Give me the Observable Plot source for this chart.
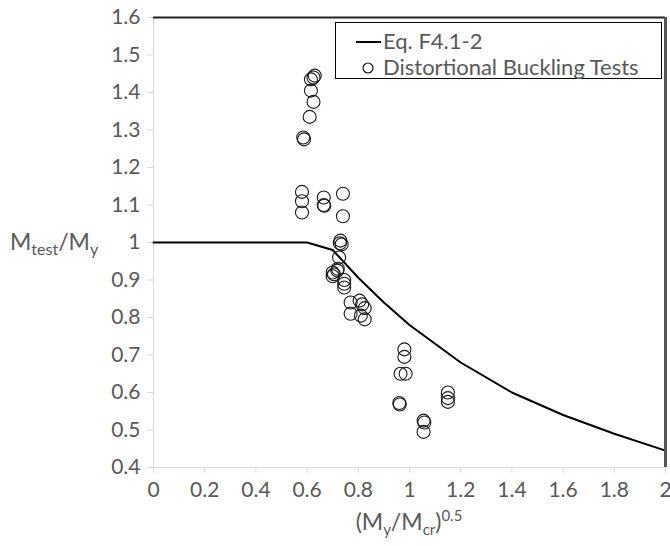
<!DOCTYPE html>
<html>
<head>
<meta charset="utf-8">
<script src="https://cdn.jsdelivr.net/npm/d3@7"></script>
<script src="https://cdn.jsdelivr.net/npm/@observablehq/plot@0.6"></script>
<style>
  html, body { margin: 0; padding: 0; background: #fff; }
  #chart { width: 670px; height: 546px; }
</style>
</head>
<body>
<div id="chart"></div>
<script>
// Eq. F4.1-2 curve
const curveX = [0, 0.6, 0.7, 0.8, 0.9, 1.0, 1.2, 1.4, 1.6, 1.8, 2.0];
const curveY = [1, 1, 0.98, 0.906, 0.84, 0.78, 0.68, 0.60, 0.54, 0.49, 0.445];

// Distortional buckling tests
const testX = [0.58, 0.58, 0.58, 0.585, 0.588, 0.61, 0.625, 0.615, 0.615, 0.625, 0.63,
  0.665, 0.665, 0.667, 0.74, 0.74, 0.73, 0.735, 0.728, 0.725, 0.72, 0.718,
  0.70, 0.70, 0.705, 0.745, 0.745, 0.745, 0.77, 0.77, 0.805, 0.815, 0.825, 0.81, 0.825,
  0.98, 0.98, 0.965, 0.985, 0.96, 0.962, 1.055, 1.058, 1.055, 1.15, 1.15, 1.15];
const testY = [1.135, 1.11, 1.08, 1.28, 1.275, 1.335, 1.375, 1.405, 1.435, 1.44, 1.445,
  1.12, 1.10, 1.098, 1.13, 1.07, 1.005, 0.995, 0.998, 0.96, 0.93, 0.925,
  0.92, 0.91, 0.915, 0.90, 0.89, 0.88, 0.84, 0.81, 0.845, 0.835, 0.825, 0.805, 0.795,
  0.715, 0.695, 0.65, 0.65, 0.572, 0.568, 0.525, 0.52, 0.495, 0.60, 0.585, 0.575];

const xTicks = [0, 0.2, 0.4, 0.6, 0.8, 1, 1.2, 1.4, 1.6, 1.8, 2];
const yTicks = [0.4, 0.5, 0.6, 0.7, 0.8, 0.9, 1, 1.1, 1.2, 1.3, 1.4, 1.5, 1.6];

const seriesLabels = ["Eq. F4.1-2", "Distortional Buckling Tests"];

const curve = curveX.map((x, i) => ({x, y: curveY[i]}));
const tests = testX.map((x, i) => ({x, y: testY[i]}));
const fmt = d => String(+d.toFixed(1));

const font = "Lato, 'Open Sans', sans-serif";

const svg = Plot.plot({
  width: 670,
  height: 546,
  marginLeft: 153,
  marginRight: 5,
  marginTop: 17,
  marginBottom: 79,
  style: {fontFamily: font, background: "white", color: "#595959", overflow: "visible"},
  x: {domain: [0, 2]},
  y: {domain: [0.4, 1.6]},
  marks: [
    Plot.ruleY([0.4], {stroke: "#d9d9d9", strokeWidth: 1}),
    Plot.ruleX([0], {stroke: "#d9d9d9", strokeWidth: 1}),
    Plot.axisX({ticks: xTicks, tickFormat: fmt, tickSize: 6, tickPadding: 9, stroke: "#d9d9d9", fill: "#595959", fontSize: 21, label: null}),
    Plot.axisY({ticks: yTicks, tickFormat: fmt, tickSize: 6, tickPadding: 7, stroke: "#d9d9d9", fill: "#595959", fontSize: 21, label: null}),
    Plot.line(curve, {x: "x", y: "y", stroke: "#000", strokeWidth: 2}),
    Plot.dot(tests, {x: "x", y: "y", r: 6.5, stroke: "#1a1a1a", strokeWidth: 1.1, fill: "none"}),
    Plot.ruleY([1.6], {stroke: "#222", strokeWidth: 2}),
    Plot.ruleX([2], {stroke: "#555", strokeWidth: 3})
  ]
});

document.getElementById("chart").appendChild(svg);

const s = d3.select(svg);

// Y axis label
const yl = s.append("text")
  .attr("x", 10).attr("y", 250).attr("text-anchor", "start")
  .attr("font-family", font).attr("font-size", 23).attr("fill", "#595959");
yl.append("tspan").text("M");
yl.append("tspan").attr("font-size", 16).attr("dy", 5).text("test");
yl.append("tspan").attr("dy", -5).text("/M");
yl.append("tspan").attr("font-size", 16).attr("dy", 5).text("y");

// X axis label
const xl = s.append("text")
  .attr("x", 409).attr("y", 530).attr("text-anchor", "middle")
  .attr("font-family", font).attr("font-size", 23).attr("fill", "#595959");
xl.append("tspan").text("(M");
xl.append("tspan").attr("font-size", 15).attr("dy", 5).text("y");
xl.append("tspan").attr("dy", -5).text("/M");
xl.append("tspan").attr("font-size", 15).attr("dy", 5).text("cr");
xl.append("tspan").attr("dy", -5).text(")");
xl.append("tspan").attr("font-size", 15).attr("dy", -9).text("0.5");

// Legend
const lg = s.append("g").attr("font-family", font).attr("font-size", 22).attr("fill", "#595959").attr("text-anchor", "start");
lg.append("rect").attr("x", 335.5).attr("y", 22.5).attr("width", 326).attr("height", 56)
  .attr("fill", "white").attr("stroke", "#000").attr("stroke-width", 1);
lg.append("line").attr("x1", 356).attr("x2", 381).attr("y1", 42).attr("y2", 42)
  .attr("stroke", "#000").attr("stroke-width", 2);
lg.append("text").attr("x", 383).attr("y", 49).text(seriesLabels[0]);
lg.append("circle").attr("cx", 368).attr("cy", 68).attr("r", 5)
  .attr("fill", "none").attr("stroke", "#111").attr("stroke-width", 1.2);
lg.append("text").attr("x", 383).attr("y", 75).text(seriesLabels[1]);
</script>
</body>
</html>
